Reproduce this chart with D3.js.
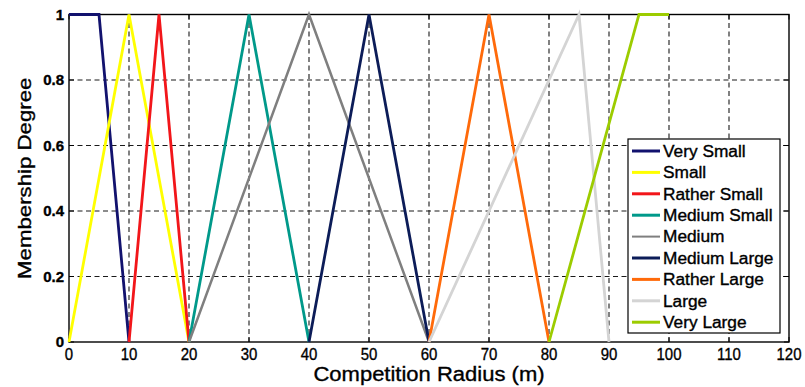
<!DOCTYPE html>
<html>
<head>
<meta charset="utf-8">
<script src="https://cdn.jsdelivr.net/npm/d3@7"></script>
<style>
  body { margin: 0; background: #fff; }
  svg { display: block; }
  text { font-family: "Liberation Sans", Arial, Helvetica, sans-serif; fill: #000;
         stroke: #000; stroke-width: 0.35px; }
</style>
</head>
<body>
<svg id="chart" width="805" height="387"></svg>
<script>
// Fuzzy membership functions for competition radius
const seriesNames = ["Very Small", "Small", "Rather Small", "Medium Small", "Medium",
                     "Medium Large", "Rather Large", "Large", "Very Large"];
const seriesColors = ["#12126e", "#ffff00", "#f2161a", "#00998a", "#7f7f7f",
                      "#0c1c58", "#ff6a0a", "#d4d4d4", "#9ccc00"];

// Breakpoints of each function: radius (m) and membership degree
const verySmallX = [0, 5, 10],     verySmallY = [1, 1, 0];
const smallX = [0, 10, 20],        smallY = [0, 1, 0];
const ratherSmallX = [10, 15, 20], ratherSmallY = [0, 1, 0];
const mediumSmallX = [20, 30, 40], mediumSmallY = [0, 1, 0];
const mediumX = [20, 40, 60],      mediumY = [0, 1, 0];
const mediumLargeX = [40, 50, 60], mediumLargeY = [0, 1, 0];
const ratherLargeX = [60, 70, 80], ratherLargeY = [0, 1, 0];
const largeX = [60, 85, 90],       largeY = [0, 1, 0];
const veryLargeX = [80, 95, 100],  veryLargeY = [0, 1, 1];

const xTicks = [0, 10, 20, 30, 40, 50, 60, 70, 80, 90, 100, 110, 120];
const yTicks = [0, 0.2, 0.4, 0.6, 0.8, 1];
const yTickLabels = ["0", "0.2", "0.4", "0.6", "0.8", "1"];

const seriesX = [verySmallX, smallX, ratherSmallX, mediumSmallX, mediumX,
                 mediumLargeX, ratherLargeX, largeX, veryLargeX];
const seriesY = [verySmallY, smallY, ratherSmallY, mediumSmallY, mediumY,
                 mediumLargeY, ratherLargeY, largeY, veryLargeY];

const svg = d3.select("#chart");
const W = 805, H = 387;
const margin = { left: 69, right: 16, top: 14.5, bottom: 45 };
const plotW = W - margin.left - margin.right;
const plotH = H - margin.top - margin.bottom;

svg.append("rect").attr("width", W).attr("height", H).attr("fill", "#fff");

const x = d3.scaleLinear().domain([0, 120]).range([0, plotW]);
const y = d3.scaleLinear().domain([0, 1]).range([plotH, 0]);

const g = svg.append("g").attr("transform", `translate(${margin.left},${margin.top})`);

// stretch or squeeze a text element to a share of its natural width
function fit(sel, ratio) {
  sel.each(function () {
    const len = this.getComputedTextLength();
    d3.select(this).attr("textLength", len * ratio).attr("lengthAdjust", "spacingAndGlyphs");
  });
}

// dashed grid
const grid = g.append("g").attr("stroke", "#1a1a1a").attr("stroke-width", 1.1)
  .attr("stroke-dasharray", "5,3.5").attr("fill", "none");
grid.selectAll("line.gx").data(xTicks.filter(d => d > 0 && d < 120)).join("line")
  .attr("x1", d => x(d)).attr("x2", d => x(d)).attr("y1", 0).attr("y2", plotH);
grid.selectAll("line.gy").data(yTicks.filter(d => d > 0 && d < 1)).join("line")
  .attr("y1", d => y(d)).attr("y2", d => y(d)).attr("x1", 0).attr("x2", plotW);

// inward tick marks on all four sides
const tickLen = 5;
const ticks = g.append("g").attr("stroke", "#000").attr("stroke-width", 1);
xTicks.forEach(d => {
  ticks.append("line").attr("x1", x(d)).attr("x2", x(d)).attr("y1", plotH).attr("y2", plotH - tickLen);
  ticks.append("line").attr("x1", x(d)).attr("x2", x(d)).attr("y1", 0).attr("y2", tickLen);
});
yTicks.forEach(d => {
  ticks.append("line").attr("y1", y(d)).attr("y2", y(d)).attr("x1", 0).attr("x2", tickLen);
  ticks.append("line").attr("y1", y(d)).attr("y2", y(d)).attr("x1", plotW).attr("x2", plotW - tickLen);
});

// axis frame
g.append("rect").attr("width", plotW).attr("height", plotH)
  .attr("fill", "none").attr("stroke", "#000").attr("stroke-width", 1.4);

// membership function lines
const line = d3.line().x(d => x(d[0])).y(d => y(d[1]));
seriesNames.forEach((name, i) => {
  const pts = seriesX[i].map((v, k) => [v, seriesY[i][k]]);
  g.append("path").datum(pts)
    .attr("d", line)
    .attr("fill", "none")
    .attr("stroke", seriesColors[i])
    .attr("stroke-width", i === 4 ? 2.5 : 2.8)
    .attr("stroke-linejoin", "miter");
});

// x tick labels
const xLab = g.append("g").selectAll("text").data(xTicks).join("text")
  .attr("x", d => x(d)).attr("y", plotH + 18)
  .attr("text-anchor", "middle")
  .style("font-size", "17px")
  .text(d => d);
fit(xLab, 0.88);

// y tick labels
const yLab = g.append("g").selectAll("text").data(yTicks).join("text")
  .attr("x", -5).attr("y", d => y(d)).attr("dy", "0.36em")
  .attr("text-anchor", "end")
  .style("font-size", "15px").style("font-weight", "bold")
  .text((d, i) => yTickLabels[i]);

// axis titles
const xTitle = svg.append("text")
  .attr("x", margin.left + plotW / 2).attr("y", 381)
  .attr("text-anchor", "middle").style("font-size", "20px")
  .text("Competition Radius (m)");
fit(xTitle, 1.1);

const yTitle = svg.append("text")
  .attr("transform", `translate(31,${margin.top + plotH / 2}) rotate(-90)`)
  .attr("text-anchor", "middle").style("font-size", "19px")
  .text("Membership Degree");
fit(yTitle, 1.17);

// legend
const legX = 628, legY = 139, legW = 152, legH = 194, rowH = 21.4;
const leg = svg.append("g");
leg.append("rect").attr("x", legX).attr("y", legY).attr("width", legW).attr("height", legH)
  .attr("fill", "#fff").attr("stroke", "#000").attr("stroke-width", 1.2);
seriesNames.forEach((name, i) => {
  const cy = legY + 12 + i * rowH;
  leg.append("line").attr("x1", legX + 4).attr("x2", legX + 32).attr("y1", cy).attr("y2", cy)
    .attr("stroke", seriesColors[i]).attr("stroke-width", i === 4 ? 2 : 3);
  const t = leg.append("text").attr("x", legX + 35).attr("y", cy).attr("dy", "0.36em")
    .style("font-size", "16px").text(name);
  fit(t, 1.08);
});
</script>
</body>
</html>
